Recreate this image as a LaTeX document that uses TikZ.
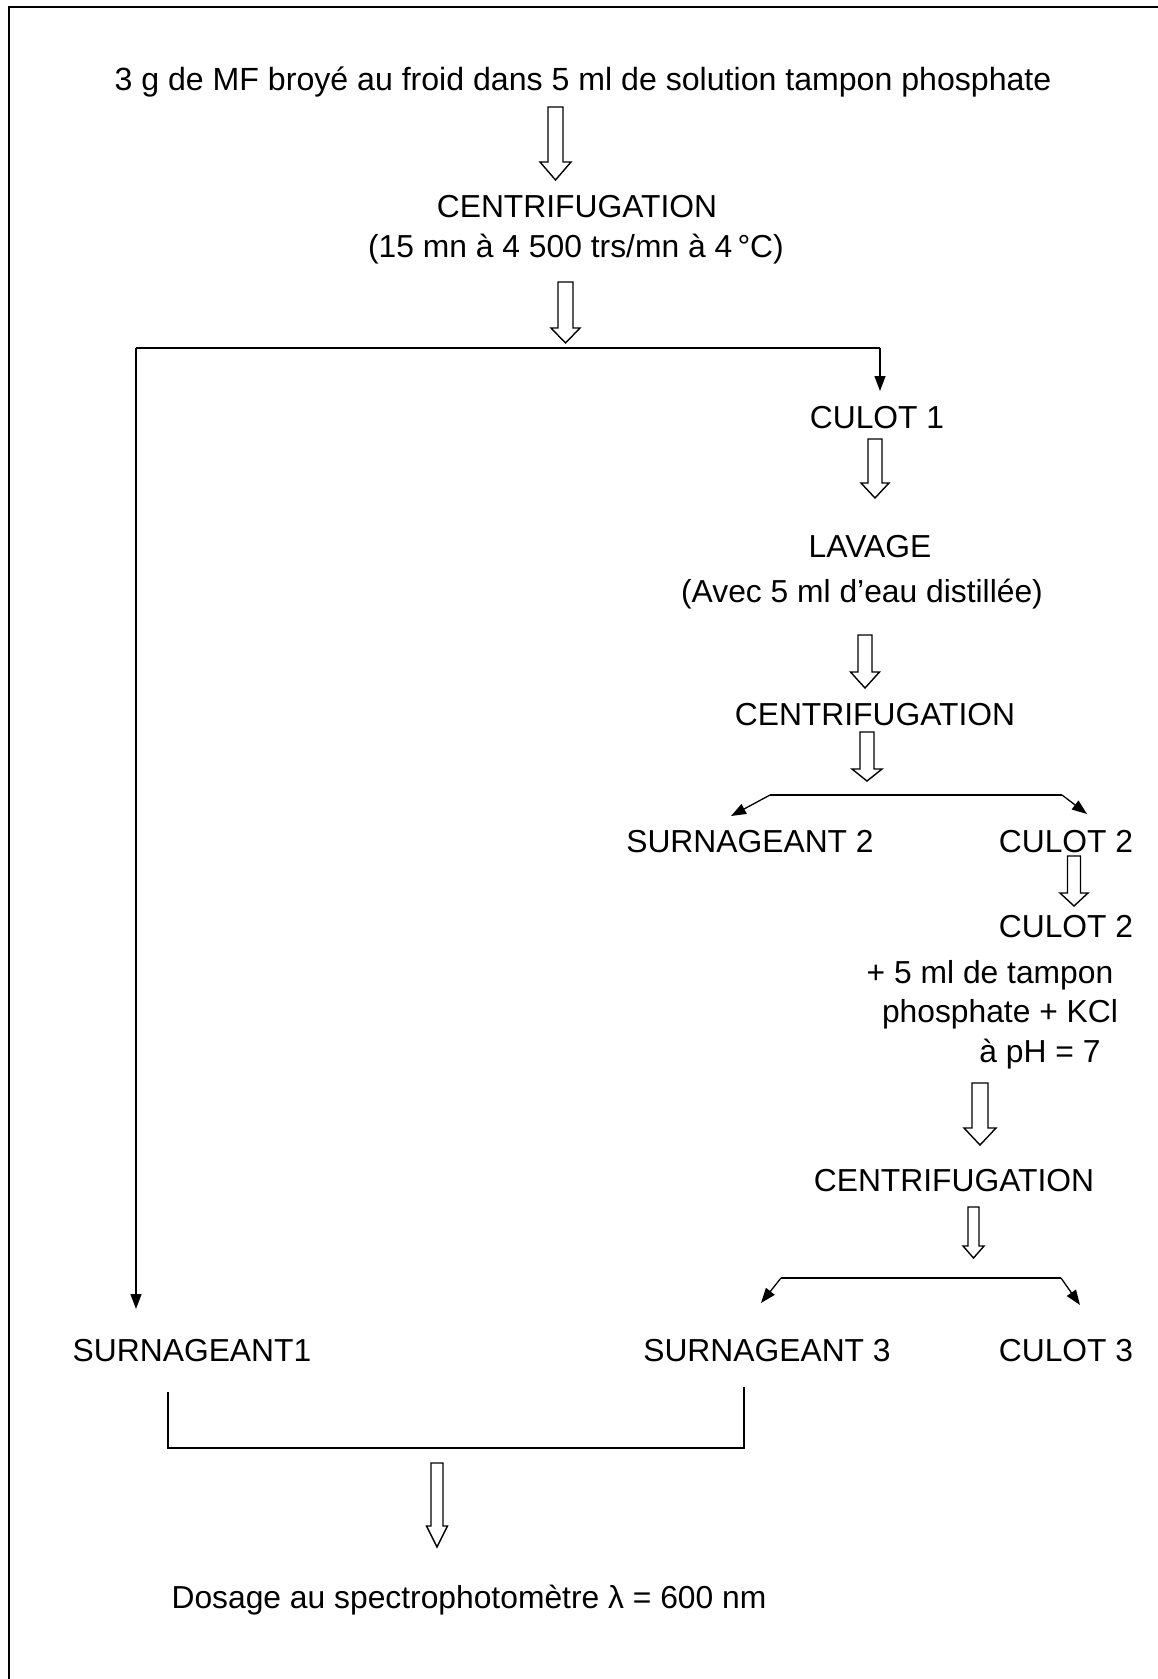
\documentclass[tikz,border=0pt]{standalone}
\usepackage{fontspec}
\setmainfont{Liberation Sans}
\usetikzlibrary{arrows.meta}
\newcommand\harrow[6]{% cx top headbase tip shafthalf headhalf
  \draw[hollow] ({#1-#5},#2) -- ({#1+#5},#2) -- ({#1+#5},#3) -- ({#1+#6},#3) -- (#1,#4) -- ({#1-#6},#3) -- ({#1-#5},#3) -- cycle;}
\begin{document}
\begin{tikzpicture}[x=1pt,y=-1pt,
  lbl/.style={inner sep=0pt, anchor=base, font=\fontsize{31.8}{38}\selectfont},
  conn/.style={line width=1.3pt, -{Triangle[length=15pt,width=11pt]}},
  plain/.style={line width=1.3pt},
  hollow/.style={line width=1.4pt, fill=white, line join=miter}]
\useasboundingbox (0,0) rectangle (1157,1679);
\fill[white] (0,0) rectangle (1157,1679);
\draw[line width=1.8pt] (9,1690) -- (9,7) -- (1170,7);

% texts
\node[lbl, font=\fontsize{32.1}{38}\selectfont] (title) at (583,90) {3 g de MF broyé au froid dans 5 ml de solution tampon phosphate};
\node[lbl] (c1) at (577,217) {CENTRIFUGATION};
\node[lbl] (c1b) at (576,257) {(15 mn à 4 500 trs/mn à 4\,°C)};
\node[lbl] (culot1) at (877,428) {CULOT 1};
\node[lbl] (lav) at (870,557) {LAVAGE};
\node[lbl] (lavb) at (862,602) {(Avec 5 ml d’eau distillée)};
\node[lbl] (c2) at (875,725) {CENTRIFUGATION};
\node[lbl] (s2) at (750,852) {SURNAGEANT 2};
\node[lbl] (culot2) at (1066,852) {CULOT 2};
\node[lbl] (culot2b) at (1066,937) {CULOT 2};
\node[lbl] (t1) at (990,983) {+ 5 ml de tampon};
\node[lbl] (t2) at (1000,1022) {phosphate + KCl};
\node[lbl] (t3) at (1040,1062) {à pH = 7};
\node[lbl] (c3) at (954,1191) {CENTRIFUGATION};
\node[lbl] (s1) at (192,1361) {SURNAGEANT1};
\node[lbl] (s3) at (767,1361) {SURNAGEANT 3};
\node[lbl] (culot3) at (1066,1361) {CULOT 3};
\node[lbl] (dos) at (469,1608) {Dosage au spectrophotomètre λ = 600 nm};

% hollow arrows
\harrow{555.5}{107}{162}{180}{7.5}{15.5}
\harrow{565.5}{282}{328}{343}{7.5}{14.5}
\harrow{875}{439}{483}{498}{7}{14}
\harrow{865}{635}{672}{688}{7}{14.5}
\harrow{867}{732}{769}{781}{7}{15}
\harrow{1074}{856}{893}{906}{6.5}{14}
\harrow{980}{1083}{1128}{1145}{8}{16}
\harrow{973.5}{1207}{1246}{1258}{5.5}{10.5}
\harrow{437}{1463}{1526}{1547}{6}{10.5}

% first branch
\coordinate (bl) at (136,348);
\coordinate (br) at (880,348);
\coordinate (s1tip) at (136,1309);
\coordinate (cu1tip) at (880,391);
\draw[plain] (bl) -- (br);
\draw[conn] (bl) -- (s1tip);
\draw[conn] (br) -- (cu1tip);

% second branch
\coordinate (b2l) at (770,795);
\coordinate (b2r) at (1062,795);
\coordinate (s2tip) at (731,816);
\coordinate (cu2tip) at (1087,814);
\draw[plain] (b2l) -- (b2r);
\draw[conn] (b2l) -- (s2tip);
\draw[conn] (b2r) -- (cu2tip);

% third branch
\coordinate (b3l) at (781,1278);
\coordinate (b3r) at (1061,1278);
\coordinate (s3tip) at (761,1303);
\coordinate (cu3tip) at (1080,1305);
\draw[plain] (b3l) -- (b3r);
\draw[conn] (b3l) -- (s3tip);
\draw[conn] (b3r) -- (cu3tip);

% bracket
\coordinate (k1) at (168,1392);
\coordinate (k2) at (168,1448);
\coordinate (k3) at (744,1448);
\coordinate (k4) at (744,1387);
\draw[plain] (k1) -- (k2) -- (k3) -- (k4);
\end{tikzpicture}
\end{document}
